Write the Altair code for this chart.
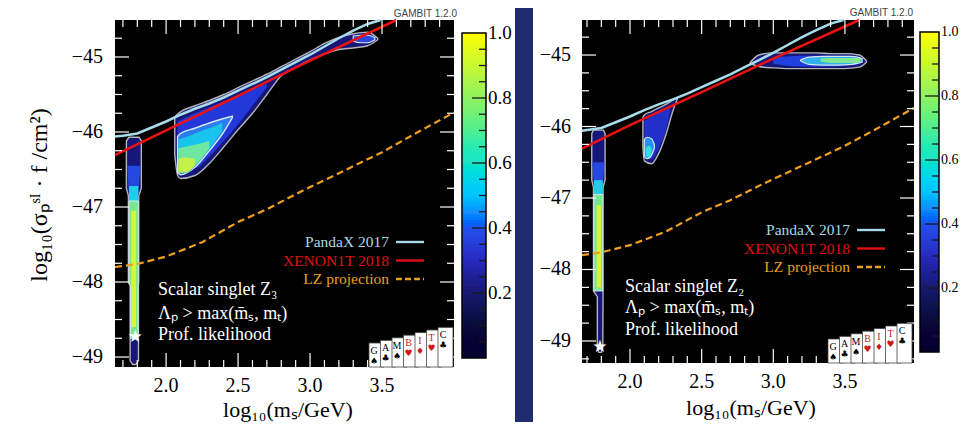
import altair as alt
import pandas as pd

SERIF = "Liberation Serif"
SANS = "Liberation Sans"

# ---------------- data ----------------
PANDAX_X = [1.645, 1.7, 1.8, 1.9, 2.0, 2.1, 2.2, 2.3, 2.4, 2.5, 2.6, 2.7, 2.8, 2.9, 3.0, 3.1, 3.2, 3.3, 3.4, 3.49]
PANDAX_Y = [-46.06, -46.05, -46.02, -45.94, -45.86, -45.77, -45.69, -45.62, -45.54, -45.45, -45.36, -45.27,
            -45.17, -45.07, -44.97, -44.86, -44.75, -44.65, -44.56, -44.50]
XENON_X = [1.645, 2.0, 2.5, 3.0, 3.6]
XENON_Y = [-46.31, -45.98, -45.52, -45.05, -44.49]
LZ_X = [1.645, 1.8, 2.0, 2.25, 2.5, 2.7, 2.93, 3.2, 3.5, 3.75, 4.01]
LZ_Y = [-47.8, -47.76, -47.66, -47.47, -47.2, -47.03, -46.8, -46.55, -46.27, -46.0, -45.74]

# Z3 panel: main blob (vertical bands: x, lower, upper)
Z3_OUT_X = [2.06, 2.08, 2.1, 2.2, 2.3, 2.4, 2.5, 2.6, 2.7, 2.8, 2.9, 3.0, 3.1, 3.2, 3.3, 3.4, 3.47]
Z3_OUT_LO = [-46.30, -46.58, -46.62, -46.58, -46.42, -46.20, -45.97, -45.75, -45.50, -45.25, -45.14, -45.04,
             -44.96, -44.90, -44.88, -44.85, -44.77]
Z3_OUT_HI = [-45.80, -45.76, -45.73, -45.65, -45.58, -45.50, -45.41, -45.32, -45.23, -45.13, -45.03, -44.93,
             -44.82, -44.74, -44.69, -44.67, -44.75]
Z3_BLUE_X = [2.08, 2.2, 2.3, 2.4, 2.5, 2.6, 2.7]
Z3_BLUE_LO = [-46.45, -46.48, -46.33, -46.12, -45.90, -45.65, -45.40]
Z3_BLUE_HI = [-45.86, -45.75, -45.67, -45.59, -45.51, -45.43, -45.36]
Z3_SIG_X = [2.08, 2.1, 2.2, 2.3, 2.4, 2.46]
Z3_SIG_LO = [-46.54, -46.57, -46.47, -46.25, -46.00, -45.81]
Z3_SIG_HI = [-46.06, -46.02, -45.95, -45.88, -45.82, -45.79]
Z3_CYAN_X = [2.085, 2.15, 2.2, 2.3, 2.39]
Z3_CYAN_LO = [-46.54, -46.54, -46.45, -46.23, -45.98]
Z3_CYAN_HI = [-46.10, -46.06, -46.02, -45.95, -45.88]
Z3_GREEN_X = [2.085, 2.15, 2.2, 2.3]
Z3_GREEN_LO = [-46.54, -46.53, -46.45, -46.22]
Z3_GREEN_HI = [-46.22, -46.19, -46.17, -46.12]
Z3_YEL_X = [2.085, 2.13, 2.2]
Z3_YEL_LO = [-46.54, -46.54, -46.45]
Z3_YEL_HI = [-46.36, -46.34, -46.36]
Z3_TOP_X = [3.3, 3.35, 3.4, 3.45]
Z3_TOP_LO = [-44.79, -44.81, -44.81, -44.77]
Z3_TOP_HI = [-44.72, -44.71, -44.71, -44.74]
# Z3 panel: thin vertical strip (horizontal bands: y, left, right)
Z3_STRIP_Y = [-46.07, -46.12, -46.75, -46.85, -48.0, -48.05, -49.05, -49.1]
Z3_STRIP_LO = [1.742, 1.724, 1.724, 1.738, 1.738, 1.750, 1.750, 1.768]
Z3_STRIP_HI = [1.812, 1.828, 1.828, 1.810, 1.810, 1.808, 1.808, 1.790]
Z3_S_BLUE = ([-46.45, -46.85], [1.730, 1.742], [1.822, 1.807])
Z3_S_CYAN = ([-46.72, -47.0], [1.742, 1.742], [1.807, 1.807])
Z3_S_GREEN = ([-46.92, -48.0, -48.05, -48.75], [1.742, 1.742, 1.753, 1.753], [1.807, 1.807, 1.805, 1.805])
Z3_S_YEL = ([-47.05, -48.6], [1.758, 1.758], [1.792, 1.792])
Z3_STAR = (1.785, -48.73)

# Z2 panel
Z2_STRIP_Y = [-46.05, -46.1, -46.75, -46.85, -48.3, -48.38, -49.1, -49.16]
Z2_STRIP_LO = [1.745, 1.733, 1.733, 1.745, 1.745, 1.772, 1.772, 1.782]
Z2_STRIP_HI = [1.815, 1.826, 1.826, 1.812, 1.812, 1.812, 1.810, 1.800]
Z2_S_BLUE = ([-46.5, -46.85], [1.738, 1.748], [1.822, 1.810])
Z2_S_CYAN = ([-46.75, -47.05], [1.748, 1.748], [1.810, 1.810])
Z2_S_GREEN = ([-46.95, -48.3], [1.748, 1.748], [1.810, 1.810])
Z2_S_YEL = ([-47.1, -48.25], [1.768, 1.768], [1.797, 1.797])
Z2_STAR = (1.79, -49.08)
Z2_A_X = [2.09, 2.1, 2.15, 2.2, 2.25, 2.3, 2.33]
Z2_A_LO = [-46.30, -46.48, -46.52, -46.38, -46.12, -45.78, -45.62]
Z2_A_HI = [-45.87, -45.84, -45.79, -45.74, -45.69, -45.63, -45.60]
Z2_AB_X = [2.1, 2.15, 2.2, 2.25, 2.28]
Z2_AB_LO = [-46.42, -46.46, -46.30, -46.05, -45.80]
Z2_AB_HI = [-45.92, -45.86, -45.80, -45.76, -45.73]
Z2_AS_X = [2.1, 2.12, 2.15, 2.17]
Z2_AS_LO = [-46.42, -46.45, -46.40, -46.30]
Z2_AS_HI = [-46.18, -46.15, -46.17, -46.25]
Z2_AC_X = [2.11, 2.13, 2.15]
Z2_AC_LO = [-46.41, -46.43, -46.38]
Z2_AC_HI = [-46.30, -46.27, -46.30]
Z2_B_X = [2.84, 2.9, 3.0, 3.1, 3.2, 3.3, 3.4, 3.5, 3.6, 3.65]
Z2_B_LO = [-45.12, -45.16, -45.18, -45.19, -45.19, -45.19, -45.19, -45.19, -45.17, -45.10]
Z2_B_HI = [-45.10, -45.00, -44.97, -44.97, -44.97, -44.97, -44.98, -44.98, -45.00, -45.08]
Z2_BB_X = [3.0, 3.1, 3.2, 3.3, 3.4, 3.5, 3.6, 3.62]
Z2_BB_LO = [-45.12, -45.15, -45.16, -45.16, -45.16, -45.15, -45.13, -45.09]
Z2_BB_HI = [-45.03, -45.02, -45.01, -45.01, -45.01, -45.01, -45.02, -45.07]
Z2_BS_X = [3.19, 3.25, 3.35, 3.45, 3.55, 3.62]
Z2_BS_LO = [-45.08, -45.13, -45.14, -45.14, -45.13, -45.10]
Z2_BS_HI = [-45.07, -45.03, -45.02, -45.02, -45.02, -45.05]
Z2_BG_X = [3.33, 3.4, 3.5, 3.6, 3.61]
Z2_BG_LO = [-45.09, -45.11, -45.11, -45.11, -45.09]
Z2_BG_HI = [-45.05, -45.04, -45.04, -45.04, -45.06]

# ticks and labels
X_MAJOR = [2.0, 2.5, 3.0, 3.5]
X_MINOR = [1.7, 1.8, 1.9, 2.1, 2.2, 2.3, 2.4, 2.6, 2.7, 2.8, 2.9, 3.1, 3.2, 3.3, 3.4, 3.6, 3.7, 3.8, 3.9]
X_LABELS = ["2.0", "2.5", "3.0", "3.5"]
Y_MAJOR = [-49, -48, -47, -46, -45]
Y_MINOR = [-49.25, -48.75, -48.5, -48.25, -47.75, -47.5, -47.25, -46.75, -46.5, -46.25,
           -45.75, -45.5, -45.25, -44.75]
Y_LABELS = ["\u221249", "\u221248", "\u221247", "\u221246", "\u221245"]
CB_MAJOR = [0.2, 0.4, 0.6, 0.8]
CB_MINOR = [0.05, 0.1, 0.15, 0.25, 0.3, 0.35, 0.45, 0.5, 0.55, 0.65, 0.7, 0.75, 0.85, 0.9, 0.95]
CB_LABEL_V = [0.2, 0.4, 0.6, 0.8, 1.0]
CB_LABELS = ["0.2", "0.4", "0.6", "0.8", "1.0"]
CMAP_POS = [0.0, 0.1, 0.2, 0.3, 0.4, 0.45, 0.5, 0.6, 0.7, 0.8, 0.9, 1.0]
CMAP_COL = ["#000000", "#0a0a3a", "#181870", "#2828c0", "#2050f0", "#1e90ff", "#00c4ff",
            "#20e4c8", "#50ee90", "#90f260", "#c8f830", "#ffff00"]
CB_STEPS = 120  # colour-bar raster resolution

CARD_LETTERS = ["G", "A", "M", "B", "I", "T", "C"]
CARD_SUITS = ["\u2660", "\u2663", "\u2660", "\u2665", "\u2666", "\u2665", "\u2663"]
CARD_COLORS = ["black", "black", "black", "#d01818", "#d01818", "#d01818", "black"]

# ---------------- layout ----------------
P1 = dict(xd=[1.645, 4.0], xr=[107, 446], yd=[-49.133, -44.507], yr=[359, 12], cr=[350, 25], cbx=[454, 478], cbfs=19)
P2 = dict(xd=[1.665, 3.982], xr=[574, 906], yd=[-49.308, -44.51], yr=[355, 12], cr=[344, 24], cbx=[912, 931], cbfs=14)

NAVY, BLUE, SIGF, CYAN, GREEN, YEL = "#17177a", "#2238d8", "#2a7cf0", "#18c4ee", "#6ee8a0", "#c4f248"
GREY, LIGHT = "#b4b4b4", "#d4e6f0"


def xs(P):
    return alt.Scale(domain=P["xd"], range=P["xr"], nice=False, zero=False, clamp=True)


def ys(P):
    return alt.Scale(domain=P["yd"], range=P["yr"], nice=False, zero=False, clamp=True)


def cs(P):
    return alt.Scale(domain=[0, 1], range=P["cr"], nice=False, zero=False)


ONE = alt.Data(values=[{"k": 1}])


def txt(s, x, y, size, color="black", align="center", angle=0, font=SERIF):
    return alt.Chart(ONE).mark_text(text=s, font=font, fontSize=size, color=color, align=align,
                                    baseline="middle", angle=angle).encode(x=alt.value(x), y=alt.value(y))


def rect(x0, x1, y0, y1, fill, stroke=None, sw=0):
    kw = dict(fill=fill, strokeWidth=sw)
    if stroke:
        kw["stroke"] = stroke
    return alt.Chart(ONE).mark_rect(**kw).encode(x=alt.value(x0), x2=alt.value(x1), y=alt.value(y0), y2=alt.value(y1))


def vband(P, X, LO, HI, fill, stroke=None, sw=1.4, interp="monotone"):
    df = pd.DataFrame({"x": X, "lo": LO, "hi": HI})
    kw = dict(fill=fill, orient="vertical", interpolate=interp, strokeWidth=sw if stroke else 0)
    if stroke:
        kw["stroke"] = stroke
    return alt.Chart(df).mark_area(**kw).encode(
        x=alt.X("x:Q", scale=xs(P), axis=None),
        y=alt.Y("lo:Q", scale=ys(P), axis=None), y2="hi:Q")


def hband(P, Y, LO, HI, fill, stroke=None, sw=1.4):
    df = pd.DataFrame({"y": Y, "lo": LO, "hi": HI})
    kw = dict(fill=fill, orient="horizontal", interpolate="linear", strokeWidth=sw if stroke else 0)
    if stroke:
        kw["stroke"] = stroke
    return alt.Chart(df).mark_area(**kw).encode(
        y=alt.Y("y:Q", scale=ys(P), axis=None),
        x=alt.X("lo:Q", scale=xs(P), axis=None), x2="hi:Q")


def line(P, X, Y, color, sw=2.5, dash=None):
    df = pd.DataFrame({"x": X, "y": Y, "i": list(range(len(X)))})
    kw = dict(color=color, strokeWidth=sw)
    if dash:
        kw["strokeDash"] = dash
    return alt.Chart(df).mark_line(**kw).encode(
        x=alt.X("x:Q", scale=xs(P), axis=None), y=alt.Y("y:Q", scale=ys(P), axis=None), order="i:Q")


def frame_ticks(P):
    out = []
    (ylo, yhi), (xl, xr_) = P["yd"], P["xr"]
    ybot, ytop = P["yr"]
    for vals, L in ((X_MAJOR, 14), (X_MINOR, 7)):
        v = [t for t in vals if P["xd"][0] < t < P["xd"][1]]
        d = pd.DataFrame({"v": v})
        out.append(alt.Chart(d).mark_rule(color="white", strokeWidth=1.2).encode(
            x=alt.X("v:Q", scale=xs(P), axis=None), y=alt.value(ytop), y2=alt.value(ytop + L)))
        out.append(alt.Chart(d).mark_rule(color="white", strokeWidth=1.2).encode(
            x=alt.X("v:Q", scale=xs(P), axis=None), y=alt.value(ybot - L), y2=alt.value(ybot)))
    for vals, L in ((Y_MAJOR, 14), (Y_MINOR, 7)):
        v = [t for t in vals if ylo < t < yhi]
        d = pd.DataFrame({"v": v})
        out.append(alt.Chart(d).mark_rule(color="white", strokeWidth=1.2).encode(
            y=alt.Y("v:Q", scale=ys(P), axis=None), x=alt.value(xl), x2=alt.value(xl + L)))
        out.append(alt.Chart(d).mark_rule(color="white", strokeWidth=1.2).encode(
            y=alt.Y("v:Q", scale=ys(P), axis=None), x=alt.value(xr_ - L), x2=alt.value(xr_)))
    return out


def tick_labels(P, xlab_y, ylab_x):
    dx = pd.DataFrame({"v": X_MAJOR, "t": X_LABELS})
    dy = pd.DataFrame({"v": Y_MAJOR, "t": Y_LABELS})
    return [
        alt.Chart(dx).mark_text(font=SERIF, fontSize=20, color="black", baseline="middle").encode(
            x=alt.X("v:Q", scale=xs(P), axis=None), y=alt.value(xlab_y), text="t:N"),
        alt.Chart(dy).mark_text(font=SERIF, fontSize=20, color="black", align="right", baseline="middle").encode(
            y=alt.Y("v:Q", scale=ys(P), axis=None), x=alt.value(ylab_x), text="t:N"),
    ]


def colorbar(P):
    x0, x1 = P["cbx"]
    lo = [k / CB_STEPS for k in range(CB_STEPS)]
    d = pd.DataFrame({"a": lo, "b": [v + 1.3 / CB_STEPS for v in lo], "c": [v + 0.5 / CB_STEPS for v in lo]})
    d["b"] = d["b"].clip(upper=1.0)
    out = [alt.Chart(d).mark_rect(strokeWidth=0).encode(
        x=alt.value(x0), x2=alt.value(x1), y=alt.Y("a:Q", scale=cs(P), axis=None), y2="b:Q",
        fill=alt.Fill("c:Q", scale=alt.Scale(domain=CMAP_POS, range=CMAP_COL), legend=None))]
    out.append(alt.Chart(ONE).mark_rect(fillOpacity=0, stroke="black", strokeWidth=1.5).encode(
        x=alt.value(x0), x2=alt.value(x1), y=alt.value(P["cr"][1]), y2=alt.value(P["cr"][0])))
    for vals, L in ((CB_MAJOR, 14), (CB_MINOR, 7)):
        out.append(alt.Chart(pd.DataFrame({"v": vals})).mark_rule(color="#1a1a1a", strokeWidth=1.3).encode(
            y=alt.Y("v:Q", scale=cs(P), axis=None), x=alt.value(x1 - L), x2=alt.value(x1)))
    out.append(alt.Chart(pd.DataFrame({"v": CB_LABEL_V, "t": CB_LABELS})).mark_text(
        font=SERIF, fontSize=P["cbfs"], color="black", align="left", baseline="middle").encode(
        y=alt.Y("v:Q", scale=cs(P), axis=None), x=alt.value(x1 + 2), text="t:N"))
    return out


def legend(right, y0):
    items = [("PandaX 2017", "#a8d8e8", None), ("XENON1T 2018", "#e01010", None), ("LZ projection", "#e8a020", [6, 3])]
    out = []
    for k, (name, col, dash) in enumerate(items):
        y = y0 + 18.5 * k
        out.append(txt(name, right, y, 15.5, color=col, align="right"))
        kw = dict(color=col, strokeWidth=2.4)
        if dash:
            kw["strokeDash"] = dash
        out.append(alt.Chart(ONE).mark_rule(**kw).encode(x=alt.value(right + 7), x2=alt.value(right + 35), y=alt.value(y)))
    return out


def cards(base_x, bottom):
    n = len(CARD_LETTERS)
    d = pd.DataFrame({
        "x0": [base_x + 11.5 * i for i in range(n)],
        "x1": [base_x + 11.5 * i + 15 for i in range(n)],
        "top": [bottom - 24 - 2.6 * i for i in range(n)],
        "bot": [bottom] * n,
        "lx": [base_x + 11.5 * i + 5 for i in range(n)],
        "ly": [bottom - 16 - 2.6 * i for i in range(n)],
        "sy": [bottom - 6 - 2.6 * i for i in range(n)],
        "letter": CARD_LETTERS, "suit": CARD_SUITS, "col": CARD_COLORS,
    })
    return [
        alt.Chart(d).mark_rect(fill="white", stroke="#444", strokeWidth=0.8).encode(
            x=alt.X("x0:Q", scale=None), x2="x1:Q", y=alt.Y("top:Q", scale=None), y2="bot:Q"),
        alt.Chart(d).mark_text(font=SERIF, fontSize=10, baseline="middle").encode(
            x=alt.X("lx:Q", scale=None), y=alt.Y("ly:Q", scale=None), text="letter:N",
            color=alt.Color("col:N", scale=None)),
        alt.Chart(d).mark_text(font="DejaVu Sans", fontSize=9, baseline="middle").encode(
            x=alt.X("lx:Q", scale=None), y=alt.Y("sy:Q", scale=None), text="suit:N",
            color=alt.Color("col:N", scale=None)),
    ]


def star(P, s):
    d = pd.DataFrame({"x": [s[0]], "y": [s[1]]})
    return alt.Chart(d).mark_text(text="\u2605", font="DejaVu Sans", fontSize=17, color="white",
                                  baseline="middle").encode(
        x=alt.X("x:Q", scale=xs(P), axis=None), y=alt.Y("y:Q", scale=ys(P), axis=None))


layers = []
# slide gap between the two figure images
layers.append(rect(507, 525, 0, 414, "#1f2c70"))
# plot areas
layers.append(rect(P1["xr"][0], P1["xr"][1], P1["yr"][1], P1["yr"][0], "black"))
layers.append(rect(P2["xr"][0], P2["xr"][1], P2["yr"][1], P2["yr"][0], "black"))

# ----- Z3 panel contents -----
layers += [
    vband(P1, Z3_OUT_X, Z3_OUT_LO, Z3_OUT_HI, NAVY, GREY),
    vband(P1, Z3_BLUE_X, Z3_BLUE_LO, Z3_BLUE_HI, BLUE),
    vband(P1, Z3_SIG_X, Z3_SIG_LO, Z3_SIG_HI, SIGF, LIGHT),
    vband(P1, Z3_CYAN_X, Z3_CYAN_LO, Z3_CYAN_HI, CYAN),
    vband(P1, Z3_GREEN_X, Z3_GREEN_LO, Z3_GREEN_HI, GREEN),
    vband(P1, Z3_YEL_X, Z3_YEL_LO, Z3_YEL_HI, YEL),
    vband(P1, Z3_TOP_X, Z3_TOP_LO, Z3_TOP_HI, "#2a48e0", LIGHT, 1.2),
    hband(P1, Z3_STRIP_Y, Z3_STRIP_LO, Z3_STRIP_HI, NAVY, GREY),
    hband(P1, *Z3_S_BLUE, "#2448e0"),
    hband(P1, *Z3_S_CYAN, "#20cce8"),
    hband(P1, *Z3_S_GREEN, "#78e890", LIGHT, 1.0),
    hband(P1, *Z3_S_YEL, "#d8f634"),
    line(P1, LZ_X, LZ_Y, "#f0a020", 2.2, [7, 4]),
    line(P1, XENON_X, XENON_Y, "#ee1111"),
    line(P1, PANDAX_X, PANDAX_Y, "#a8dcea"),
    star(P1, Z3_STAR),
]
layers += frame_ticks(P1)

# ----- Z2 panel contents -----
layers += [
    vband(P2, Z2_A_X, Z2_A_LO, Z2_A_HI, NAVY, GREY),
    vband(P2, Z2_AB_X, Z2_AB_LO, Z2_AB_HI, "#2030c8"),
    vband(P2, Z2_AS_X, Z2_AS_LO, Z2_AS_HI, "#2a90f0", LIGHT, 1.2),
    vband(P2, Z2_AC_X, Z2_AC_LO, Z2_AC_HI, "#30dce8"),
    vband(P2, Z2_B_X, Z2_B_LO, Z2_B_HI, NAVY, GREY),
    vband(P2, Z2_BB_X, Z2_BB_LO, Z2_BB_HI, "#2040e0"),
    vband(P2, Z2_BS_X, Z2_BS_LO, Z2_BS_HI, "#30b0f0", LIGHT, 1.2),
    vband(P2, Z2_BG_X, Z2_BG_LO, Z2_BG_HI, "#80e890"),
    hband(P2, Z2_STRIP_Y, Z2_STRIP_LO, Z2_STRIP_HI, NAVY, GREY),
    hband(P2, *Z2_S_BLUE, "#2448e0"),
    hband(P2, *Z2_S_CYAN, "#20cce8"),
    hband(P2, *Z2_S_GREEN, "#78e890", LIGHT, 1.0),
    hband(P2, *Z2_S_YEL, "#d8f634"),
    line(P2, LZ_X, LZ_Y, "#f0a020", 2.2, [7, 4]),
    line(P2, XENON_X, XENON_Y, "#ee1111"),
    line(P2, PANDAX_X, PANDAX_Y, "#a8dcea"),
    star(P2, Z2_STAR),
]
layers += frame_ticks(P2)

# legends, annotations, logos
layers += legend(381, 234)
layers += legend(842, 222)
layers += [
    txt("Scalar singlet Z\u2083", 150, 282, 18, "white", "left"),
    txt("\u039b\u209a > max(m\u0304\u209b, m\u209c)", 150, 306, 18, "white", "left"),
    txt("Prof. likelihood", 150, 327, 18, "white", "left"),
    txt("Scalar singlet Z\u2082", 617, 279, 18, "white", "left"),
    txt("\u039b\u209a > max(m\u0304\u209b, m\u209c)", 617, 300, 18, "white", "left"),
    txt("Prof. likelihood", 617, 322, 18, "white", "left"),
]
layers += cards(361, 359)
layers += cards(820, 355)

# colorbars
layers += colorbar(P1)
layers += colorbar(P2)

# axis labels and titles
layers += tick_labels(P1, 378, 95)
layers += tick_labels(P2, 374, 563)
layers += [
    txt("log\u2081\u2080(m\u209b/GeV)", 280, 402, 22),
    txt("log\u2081\u2080(m\u209b/GeV)", 743, 400, 22),
    txt("log\u2081\u2080(\u03c3\u209a\u02e2\u1d35 \u00b7 f /cm\u00b2)", 32, 187, 24, angle=270),
    txt("GAMBIT 1.2.0", 449, 6, 10, "#444", "right", font=SANS),
    txt("GAMBIT 1.2.0", 905, 5, 10, "#444", "right", font=SANS),
]

chart = alt.layer(*layers).resolve_scale(x="independent", y="independent", color="independent",
                                         fill="independent").properties(
    width=952, height=414, autosize=alt.AutoSizeParams(type="none"), padding=0, background="white"
).configure_view(stroke=None)

chart.save("out.html", embed_options={"renderer": "svg", "actions": False})
